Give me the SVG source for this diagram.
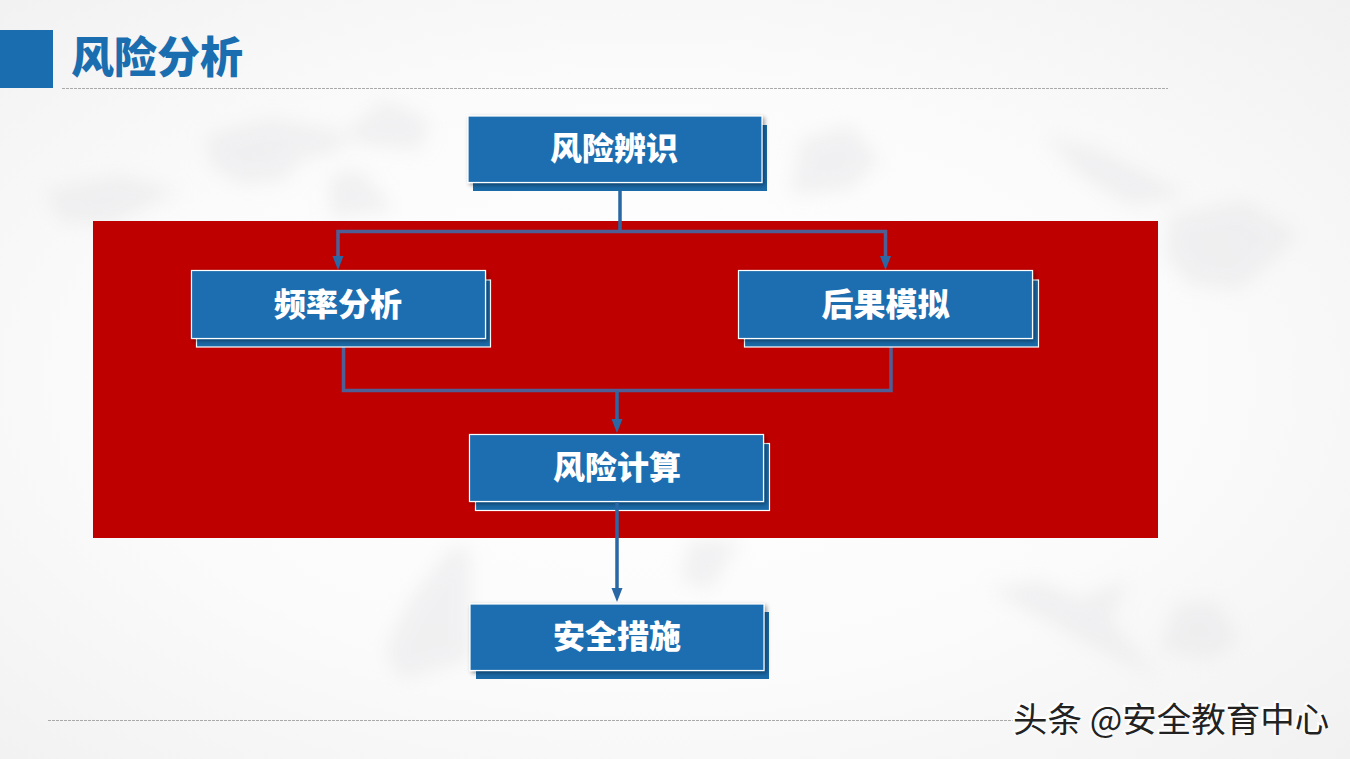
<svg xmlns="http://www.w3.org/2000/svg" width="1350" height="759" viewBox="0 0 1350 759">
<style>
.box{fill:#1a6eb0}
.st{stroke:#fff;stroke-width:1.2}
.back{fill:#1a6aa8}
.lbl{font-family:"Noto Sans CJK SC","Liberation Sans",sans-serif;font-weight:900;font-size:32px;fill:#fff;text-anchor:middle}
.conn{fill:none;stroke:#2a67a5;stroke-width:3.500}
.conn2{fill:none;stroke:#4f5f95;stroke-width:3.500}
.head{fill:#2a67a5}
.dash{fill:none;stroke:#aaa;stroke-width:1;stroke-dasharray:3 1}
.map{fill:#e6e6e9}
</style>
<defs>
<radialGradient id="bg" cx="48%" cy="50%" r="72%"><stop offset="0" stop-color="#ffffff"/><stop offset="0.55" stop-color="#fbfbfb"/><stop offset="1" stop-color="#f1f1f1"/></radialGradient>
<filter id="blur" x="-20%" y="-20%" width="140%" height="140%"><feGaussianBlur stdDeviation="9"/></filter>
<filter id="sh" x="-5%" y="-10%" width="110%" height="125%"><feDropShadow dx="2" dy="2" stdDeviation="2" flood-color="#000" flood-opacity="0.4"/></filter>
</defs>
<rect width="1350" height="759" fill="url(#bg)"/>
<g id="map" filter="url(#blur)" opacity="0.5">
<path class="map" d="M205 135 L270 118 L340 130 L345 150 L300 160 L285 180 L240 185 L210 165 Z"/>
<path class="map" d="M340 135 L385 100 L430 120 L420 150 L365 145 Z"/>
<path class="map" d="M330 175 L360 170 L395 210 L330 218 Z"/>
<path class="map" d="M45 190 L120 175 L180 190 L110 225 L60 222 Z"/>
<path class="map" d="M800 140 L850 125 L880 160 L850 190 L790 195 Z"/>
<path class="map" d="M1045 135 L1100 150 L1190 195 L1130 205 L1080 175 Z"/>
<path class="map" d="M1170 215 L1245 200 L1300 235 L1240 290 L1190 285 L1165 255 Z"/>
<path class="map" d="M990 590 L1040 580 L1080 600 L1100 590 L1130 580 L1110 620 L1160 680 L1080 640 Z"/>
<path class="map" d="M1175 605 L1215 600 L1240 640 L1210 660 L1160 650 Z"/>
<path class="map" d="M450 548 L470 548 L470 660 L400 680 L385 650 L410 600 Z"/>
<path class="map" d="M690 540 L740 540 L710 590 L680 580 Z"/>
</g>
<g id="header">
<rect x="0" y="30" width="53" height="58" fill="#1a6eb0"/>
<text x="71" y="73" font-family="'Noto Sans CJK SC','Liberation Sans',sans-serif" font-weight="900" font-size="43" fill="#1a6eb0">风险分析</text>
<line class="dash" x1="62" y1="88.500" x2="1168" y2="88.500"/>
<line class="dash" x1="48" y1="720.500" x2="1020" y2="720.500"/>
</g>
<rect id="band" x="93" y="221" width="1065" height="317" fill="#bf0000"/>
<g id="connectors">
<path class="conn" d="M620 191V231"/>
<path class="conn2" d="M338 260V231.500H885.500V260"/>
<path class="conn2" d="M343.500 347V390.500H891V347"/>
<path class="conn" d="M617 391V425"/>
<path d="M332.500 256H343.500L338 270Z" class="head"/>
<path d="M880 256H891L885.500 270Z" class="head"/>
<path d="M611.500 419H622.500L617 433Z" class="head"/>
<path d="M611.500 588H622.500L617 602Z" class="head"/>
</g>
<g id="n1">
<rect class="back" x="473" y="125" width="294" height="66"/>
<rect class="box st" x="468" y="116" width="294" height="66.500" filter="url(#sh)"/>
<text class="lbl" x="614" y="160">风险辨识</text>
</g>
<g id="n2">
<rect class="back st" x="196.500" y="280" width="294" height="67"/>
<rect class="box st" x="191.500" y="270.500" width="294" height="68" filter="url(#sh)"/>
<text class="lbl" x="338" y="316">频率分析</text>
</g>
<g id="n3">
<rect class="back st" x="744.500" y="280" width="294" height="67"/>
<rect class="box st" x="738.500" y="270.500" width="294" height="68" filter="url(#sh)"/>
<text class="lbl" x="885.500" y="316">后果模拟</text>
</g>
<g id="n4">
<rect class="back st" x="475.500" y="443.500" width="294" height="67"/>
<rect class="box st" x="469.500" y="434.500" width="294" height="67" filter="url(#sh)"/>
<text class="lbl" x="617" y="479">风险计算</text>
</g>
<g id="n5">
<rect class="back" x="476" y="612" width="293" height="67"/>
<rect class="box st" x="470" y="604" width="294" height="66.500" filter="url(#sh)"/>
<text class="lbl" x="617" y="648">安全措施</text>
</g>
<g id="connector-top">
<path class="conn" d="M617 502V590"/>
</g>
<g id="watermark" font-family="'Noto Sans CJK SC','Liberation Sans',sans-serif" font-size="34.500">
<text x="1013" y="732" fill="#fff" stroke="#fff" stroke-width="2.500" transform="translate(-1,-1)">头条 @安全教育中心</text>
<text x="1013" y="732" fill="#222">头条 @安全教育中心</text>
</g>
</svg>
